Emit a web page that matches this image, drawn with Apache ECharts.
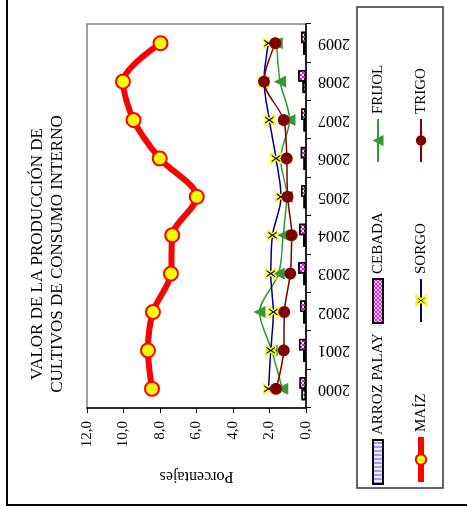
<!DOCTYPE html>
<html>
<head>
<meta charset="utf-8">
<script src="https://cdn.jsdelivr.net/npm/echarts@6/dist/echarts.min.js"></script>
<style>
html,body{margin:0;padding:0;background:#fff;overflow:hidden;width:467px;height:508px;}
#wrap{position:absolute;left:0;top:0;width:508px;height:467px;transform-origin:0 0;transform:translate(0,508px) rotate(-90deg);}
#chart{width:508px;height:467px;}
</style>
</head>
<body>
<div id="wrap"><div id="chart"></div></div>
<script>
// ---- data ----
var years = ['2000','2001','2002','2003','2004','2005','2006','2007','2008','2009'];
var arrozPalay = [0.24, 0.17, 0.16, 0.15, 0.16, 0.14, 0.14, 0.14, 0.19, 0.17];
var cebada     = [0.35, 0.38, 0.33, 0.42, 0.37, 0.27, 0.29, 0.27, 0.42, 0.27];
var frijol     = [1.30, 1.88, 2.55, 1.50, 1.25, 1.05, 1.40, 0.90, 1.42, 1.60];
var maiz       = [8.44, 8.66, 8.39, 7.40, 7.33, 5.98, 8.02, 9.45, 10.03, 7.97];
var sorgo      = [2.06, 1.93, 1.79, 1.93, 1.84, 1.37, 1.64, 2.01, 2.30, 2.06];
var trigo      = [1.64, 1.22, 1.19, 0.86, 0.78, 1.02, 1.06, 1.22, 2.30, 1.68];
var valueTicks = ['0,0','2,0','4,0','6,0','8,0','10,0','12,0'];
var titleLines = ['VALOR DE LA PRODUCCIÓN DE','CULTIVOS DE CONSUMO INTERNO'];

var FONT = "'Liberation Serif','Times New Roman',serif";
var chart = echarts.init(document.getElementById('chart'), null, {renderer:'canvas'});
var xPath = 'path://M0,0 L3,0 L5,2.6 L7,0 L10,0 L6.6,5 L10,10 L7,10 L5,7.4 L3,10 L0,10 L3.4,5 Z';

function leg(name, left, rowCenter, iw, ih, icon, extra){
  var o = {
    data:[icon ? {name:name, icon:icon} : name],
    left:left, top:rowCenter - 8, padding:0,
    itemWidth:iw, itemHeight:ih, itemGap:4,
    textStyle:{fontFamily:FONT, fontSize:15, color:'#000', lineHeight:16}
  };
  if (extra) Object.assign(o, extra);
  return o;
}

chart.setOption({
  animation:false,
  backgroundColor:'#fff',
  title:{
    text: titleLines.join('\n'),
    left:'center', top:28, padding:0,
    textStyle:{fontFamily:FONT, fontSize:17, fontWeight:'normal', color:'#000', lineHeight:20}
  },
  graphic:[
    {type:'rect', shape:{x:3, y:7, width:600, height:600}, style:{fill:'none', stroke:'#000', lineWidth:2}, silent:true},
    {type:'rect', shape:{x:20, y:357, width:481, height:86}, style:{fill:'none', stroke:'#333', lineWidth:1.5}, silent:true}
  ],
  legend:[
    leg('ARROZ PALAY', 23, 378, 44, 10, 'rect'),
    leg('CEBADA', 184, 378, 44, 10, 'rect'),
    leg('FRIJOL', 345, 378, 43, 14),
    leg('MAÍZ', 23, 421, 45, 13, null, {lineStyle:{width:6}}),
    leg('SORGO', 185, 421, 43, 12),
    leg('TRIGO', 345, 421, 43, 13)
  ],
  grid:{left:100, right:24, top:87, bottom:161, show:true, borderColor:'#808080', borderWidth:1.5, backgroundColor:'#fff'},
  xAxis:{
    type:'category', data:years, boundaryGap:true,
    axisLine:{lineStyle:{color:'#000', width:1.5}},
    axisTick:{show:true, length:5, inside:false, lineStyle:{color:'#000'}},
    axisLabel:{rotate:90, margin:12, fontFamily:FONT, fontSize:16, color:'#000', interval:0}
  },
  yAxis:{
    type:'value', min:0, max:12, interval:2,
    name:'Porcentajes', nameLocation:'middle', nameGap:60,
    nameTextStyle:{fontFamily:FONT, fontSize:16, color:'#000'},
    axisLine:{show:true, lineStyle:{color:'#000', width:1.5}},
    axisTick:{show:true, length:5, lineStyle:{color:'#000'}},
    splitLine:{show:false},
    axisLabel:{margin:13, fontFamily:FONT, fontSize:15, color:'#000',
      formatter:function(v){ return valueTicks[Math.round(v/2)]; }}
  },
  series:[
    {name:'ARROZ PALAY', type:'bar', data:arrozPalay, barWidth:11.5, barGap:'0%',
     itemStyle:{color:'#9999ff', borderColor:'#000', borderWidth:1.5,
       decal:{symbol:'rect', symbolSize:1, dashArrayX:[1,0], dashArrayY:[2,2], rotation:Math.PI/2, color:'rgba(255,255,255,0.85)'}}},
    {name:'CEBADA', type:'bar', data:cebada, barWidth:11.5, barGap:'0%',
     itemStyle:{color:'#ff00ff', borderColor:'#000', borderWidth:1.5,
       decal:{symbol:'rect', symbolSize:1, dashArrayX:[[2,2],[0,2,2,0]], dashArrayY:[2,0], color:'rgba(255,255,255,0.9)'}}},
    {name:'FRIJOL', type:'line', data:frijol, smooth:0.3, symbol:'triangle', symbolSize:12,
     lineStyle:{color:'#339933', width:1.5}, itemStyle:{color:'#339933'}},
    {name:'MAÍZ', type:'line', data:maiz, smooth:0.3, symbol:'circle', symbolSize:14,
     lineStyle:{color:'#ff0000', width:6}, itemStyle:{color:'#ffff00', borderColor:'#ff0000', borderWidth:2}},
    {name:'SORGO', type:'line', data:sorgo, smooth:0.3, symbol:xPath, symbolSize:10,
     lineStyle:{color:'#000080', width:1.5}, itemStyle:{color:'#000080', borderColor:'#ffff00', borderWidth:1.5}},
    {name:'TRIGO', type:'line', data:trigo, smooth:0.3, symbol:'circle', symbolSize:12,
     lineStyle:{color:'#800000', width:1.5}, itemStyle:{color:'#800000'}}
  ]
});
</script>
</body>
</html>
